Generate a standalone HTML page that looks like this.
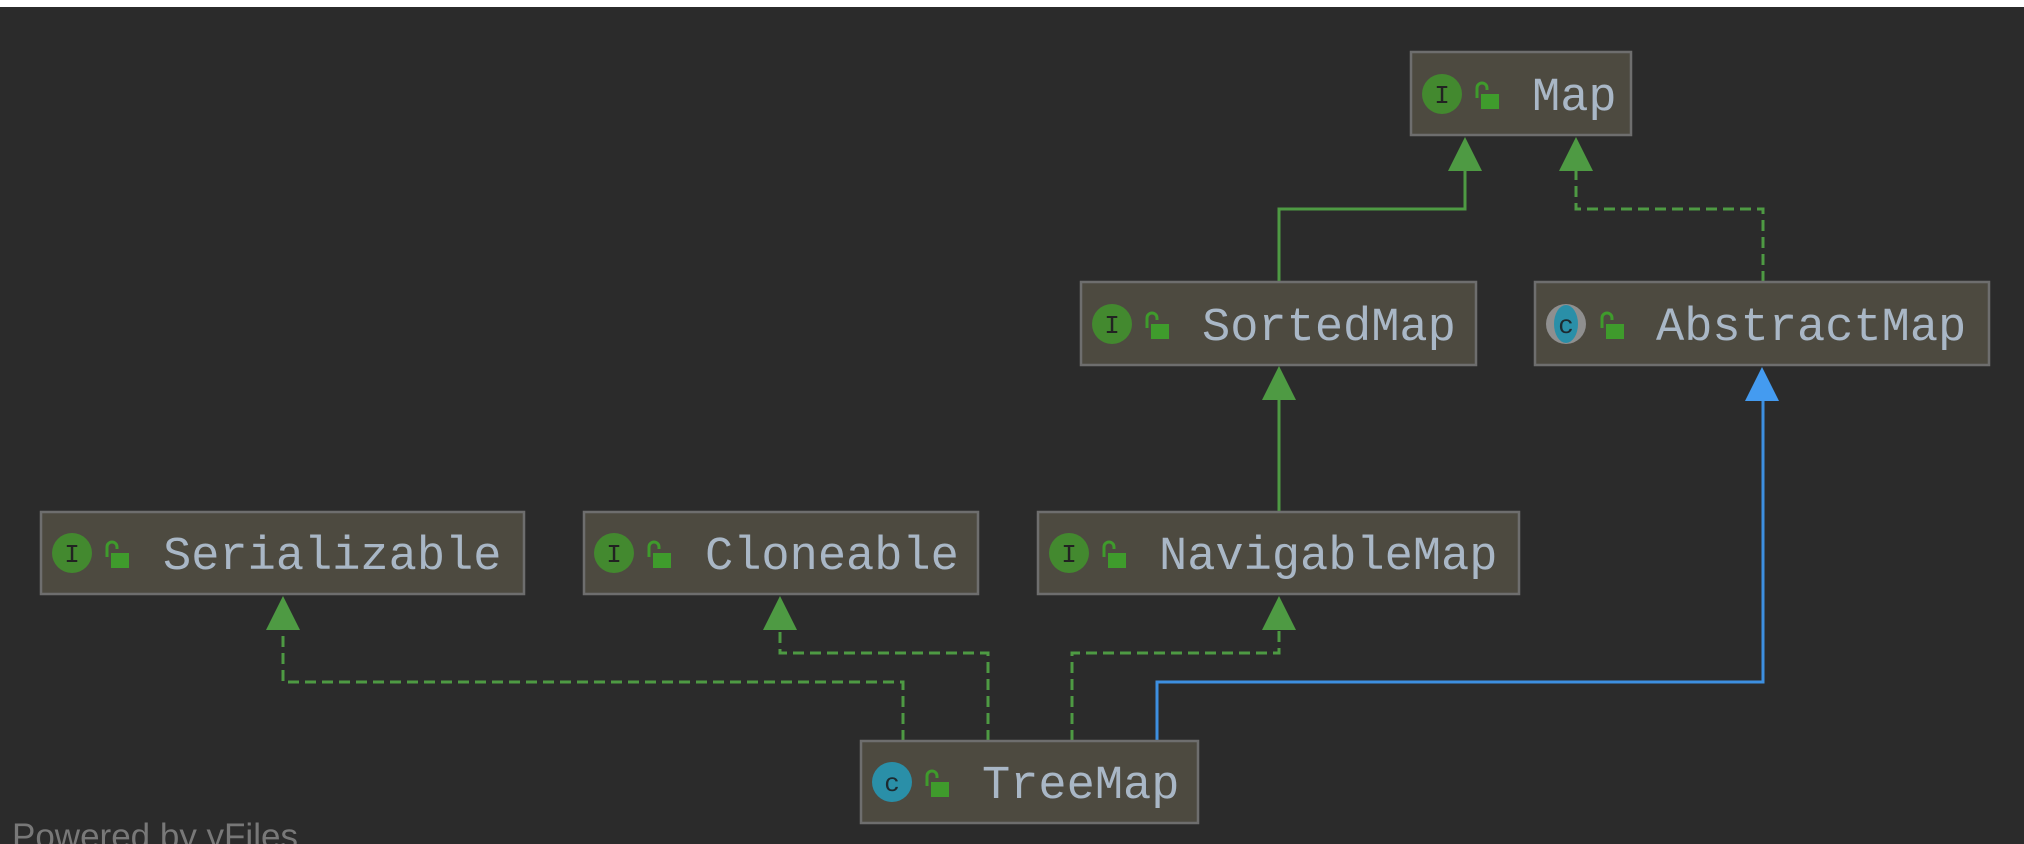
<!DOCTYPE html>
<html><head><meta charset="utf-8"><style>
html,body{margin:0;padding:0;background:#2b2b2b;}
svg{display:block;}
text{font-family:"Liberation Mono",monospace;}
</style></head><body>
<svg width="2024" height="844" xmlns="http://www.w3.org/2000/svg">
<rect x="0" y="0" width="2024" height="844" fill="#2b2b2b"/>
<rect x="0" y="0" width="2024" height="7" fill="#ffffff"/>
<defs>
<g id="lock">
<path d="M1 2 v-10 a5 5 0 0 1 10 0 v2" fill="none" stroke="#3f9b2c" stroke-width="3"/>
<rect x="5" y="-2" width="18" height="15" fill="#3f9b2c"/>
</g>
</defs>
<g fill="none" stroke-width="3">
<path d="M1279 281 V209 H1465 V168" stroke="#4e9a43"/>
<path d="M1763 282 V209 H1576 V168" stroke="#4e9a43" stroke-dasharray="11 6"/>
<path d="M1279 512 V395" stroke="#4e9a43"/>
<path d="M903 741 V682 H283 V628" stroke="#4e9a43" stroke-dasharray="11 6"/>
<path d="M988 741 V653 H780 V628" stroke="#4e9a43" stroke-dasharray="11 6"/>
<path d="M1072 741 V653 H1279 V628" stroke="#4e9a43" stroke-dasharray="11 6"/>
<path d="M1157 741 V682 H1763 V398" stroke="#3d8fe0"/>
</g>
<g fill="#4e9a43">
<polygon points="1465,137 1448,171 1482,171"/>
<polygon points="1576,137 1559,171 1593,171"/>
<polygon points="1279,366 1262,400 1296,400"/>
<polygon points="283,596 266,630 300,630"/>
<polygon points="780,596 763,630 797,630"/>
<polygon points="1279,596 1262,630 1296,630"/>
</g>
<polygon points="1762,367 1745,401 1779,401" fill="#449bf0"/>

<g stroke="#6e6e6e" stroke-width="2.5" fill="#4d4a40">
<rect x="1411" y="52" width="220" height="83"/>
<rect x="1081" y="282" width="395" height="83"/>
<rect x="1535" y="282" width="454" height="83"/>
<rect x="41" y="512" width="483" height="82"/>
<rect x="584" y="512" width="394" height="82"/>
<rect x="1038" y="512" width="481" height="82"/>
<rect x="861" y="741" width="337" height="82"/>
</g>

<g font-size="26">
<circle cx="1442" cy="94" r="20" fill="#43892f"/><text x="1442" y="103" fill="#222" text-anchor="middle">I</text>
<use href="#lock" x="1476" y="96"/>
<circle cx="1112" cy="324" r="20" fill="#43892f"/><text x="1112" y="333" fill="#222" text-anchor="middle">I</text>
<use href="#lock" x="1146" y="326"/>
<circle cx="1566" cy="324" r="20" fill="#8f8f8f"/><ellipse cx="1566" cy="324" rx="12" ry="19" fill="#2a8fa8"/><text x="1566" y="333" fill="#1d2a30" text-anchor="middle">c</text>
<use href="#lock" x="1601" y="326"/>
<circle cx="72" cy="553" r="20" fill="#43892f"/><text x="72" y="562" fill="#222" text-anchor="middle">I</text>
<use href="#lock" x="106" y="555"/>
<circle cx="614" cy="553" r="20" fill="#43892f"/><text x="614" y="562" fill="#222" text-anchor="middle">I</text>
<use href="#lock" x="648" y="555"/>
<circle cx="1069" cy="553" r="20" fill="#43892f"/><text x="1069" y="562" fill="#222" text-anchor="middle">I</text>
<use href="#lock" x="1103" y="555"/>
<circle cx="892" cy="782" r="20" fill="#2a8fa8"/><text x="892" y="791" fill="#1d2a30" text-anchor="middle">c</text>
<use href="#lock" x="926" y="784"/>
</g>

<g font-size="47" fill="#a9b7c6">
<text x="1532" y="110">Map</text>
<text x="1202" y="340">SortedMap</text>
<text x="1656" y="340">AbstractMap</text>
<text x="163" y="569">Serializable</text>
<text x="705" y="569">Cloneable</text>
<text x="1159" y="569">NavigableMap</text>
<text x="982" y="798">TreeMap</text>
</g>
<text x="12" y="848" font-size="35" fill="#787878" style="font-family:'Liberation Sans',sans-serif">Powered by yFiles</text>
</svg>
</body></html>
